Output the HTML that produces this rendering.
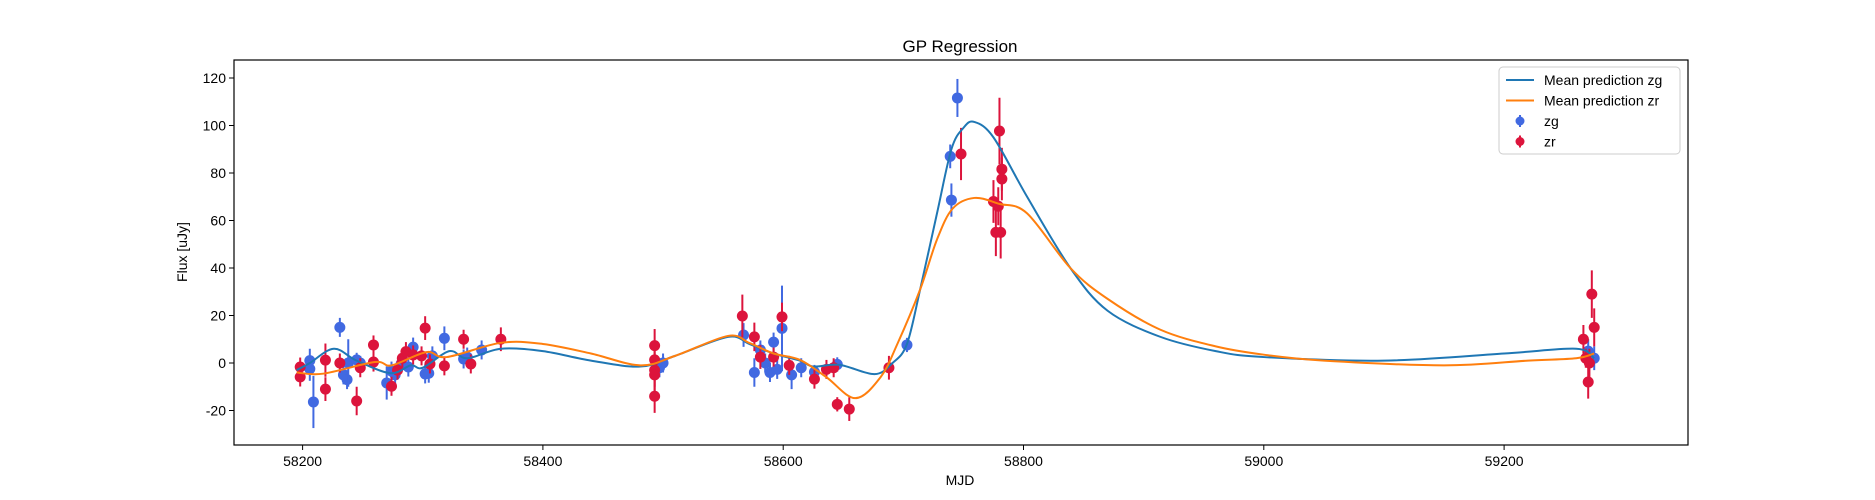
<!DOCTYPE html>
<html><head><meta charset="utf-8"><style>
body{margin:0;background:#fff}
svg{display:block;font-family:"Liberation Sans","DejaVu Sans",sans-serif}
</style></head><body>
<svg id="chart" width="1875" height="500">
<rect width="1875" height="500" fill="#fff"/>
<text x="960" y="52" font-size="17" text-anchor="middle">GP Regression</text>
<text x="960" y="485" font-size="14" text-anchor="middle">MJD</text>
<text x="0" y="0" font-size="14" text-anchor="middle" transform="translate(187,252) rotate(-90)">Flux [uJy]</text>
<g id="plot"></g>
</svg>
<script>
const xTicks=[58200,58400,58600,58800,59000,59200];
const yTicks=[-20,0,20,40,60,80,100,120];
const zgX=[58206,58206,58209,58231,58234,58237,58238,58245,58248,58270,58274,58277,58282,58288,58292,58302,58305,58308,58318,58334,58337,58349,58497,58500,58567,58576,58581,58585,58589,58592,58595,58599,58607,58615,58626,58645,58703,58739,58740,58745,59270,59275];
const zgY=[1,-2.5,-16.4,15,-5,-7,0,1.3,0,-8.4,-3.4,-5,-0.4,-1.7,6.7,-4.6,-4.3,3,10.4,1.7,2.5,5.5,-2,0,11.8,-4,5.5,0,-4,8.8,-2.7,14.6,-5,-2,-3.8,-0.6,7.6,87,68.6,111.6,5,2];
const zgE=[5,5,11,4,4,4,10,3,3,7,4,4,4,4,4,4,4,4,5,4,4,4,4,4,5,6,4,4,4,4,4,18,6,4,3,3,3,5,7,8,5,5];
const zrX=[58198,58198,58219,58219,58231,58245,58248,58259,58259,58274,58279,58283,58286,58292,58299,58302,58306,58318,58334,58340,58365,58493,58493,58493,58493,58493,58566,58576,58581,58592,58599,58605,58626,58636,58642,58645,58655,58688,58748,58775,58777,58779,58780,58781,58782,58782,59266,59268,59270,59271,59273,59275];
const zrY=[-1.7,-5.9,1.2,-11,0,-16,-2,7.6,0.4,-9.8,-3,2,4.8,3.4,3,14.7,-0.4,-1.2,10,-0.4,10,-14,1.3,7.3,-3,-5,19.8,11,2.5,2.5,19.4,-1,-6.8,-2.7,-2,-17.4,-19.4,-2,88,68,55,66,97.7,55,77.5,81.6,10,2,-8,0,29,15];
const zrE=[4,4,7,5,4,6,4,4,4,4,4,4,4,4,4,5,4,4,4,4,5,7,7,7,7,7,9,6,5,4,6,4,4,4,4,3,5,5,11,9,10,8,14,11,9,9,6,4,7,6,10,8];
const mgX=[58195,58206,58226,58245,58273,58290,58300,58322,58337,58365,58400,58440,58481,58510,58554,58572,58592,58614,58625,58647,58676,58691,58703,58714,58728,58740,58750,58759,58775,58803,58839,58870,58914,58960,59000,59100,59200,59260,59275];
const mgY=[-3,0,6,1,-4.3,-1,-2,5,2,6,5,1,-1.5,3,11,8,4,1,-1.5,-0.8,-4.7,0,8,31,63,90,99,101.5,95,70,40,22,11,5,2.5,1,4,6,2];
const mrX=[58195,58217,58260,58274,58303,58320,58365,58400,58440,58481,58510,58554,58572,58592,58614,58636,58660,58681,58695,58714,58728,58741,58759,58780,58803,58839,58870,58914,58960,59000,59050,59150,59220,59260,59275];
const mrY=[-4,-4.5,0.4,-1,4.6,2.5,8.5,8,4,-1,3,11.4,8.4,4,1.3,-6,-14.8,-6,8,31,52,65,69.5,67,63,40,27,14,7,3.5,1,-1,1,2,4];

const L=234,R=1688,T=60,B=445;
const X=v=>302.6+(v-58200)*1.2015;
const Y=v=>363-v*2.375;
const NS='http://www.w3.org/2000/svg';
const g=document.getElementById('plot');
function mk(t,a,p){const e=document.createElementNS(NS,t);for(const k in a)e.setAttribute(k,a[k]);(p||g).appendChild(e);return e;}

xTicks.forEach(v=>{
  const gt=mk('g',{});
  
  
  mk('line',{x1:X(v),x2:X(v),y1:B,y2:B+5,stroke:'#000'},gt);
  const t=mk('text',{x:X(v),y:B+21,'font-size':14,'text-anchor':'middle'},gt);t.textContent=v;
});
yTicks.forEach(v=>{
  const gt=mk('g',{});
  
  
  mk('line',{x1:L-5,x2:L,y1:Y(v),y2:Y(v),stroke:'#000'},gt);
  const t=mk('text',{x:L-8,y:Y(v)+5,'font-size':14,'text-anchor':'end'},gt);t.textContent=v;
});

function curve(xs,ys,col,name){
  const p=xs.map((x,i)=>[X(x),Y(ys[i])]);
  let d='M'+p[0][0]+','+p[0][1];
  for(let i=0;i<p.length-1;i++){
    const p0=p[i-1]||p[i],p1=p[i],p2=p[i+1],p3=p[i+2]||p2;
    d+=` C${p1[0]+(p2[0]-p0[0])/6},${p1[1]+(p2[1]-p0[1])/6} ${p2[0]-(p3[0]-p1[0])/6},${p2[1]-(p3[1]-p1[1])/6} ${p2[0]},${p2[1]}`;
  }
  const e=mk('path',{d,fill:'none',stroke:col,'stroke-width':2});
  
  
}
function pts(xs,ys,es,col,name){
  const gg=mk('g',{});
  
  
  xs.forEach((x,i)=>{
    mk('line',{x1:X(x),x2:X(x),y1:Y(ys[i]-es[i]),y2:Y(ys[i]+es[i]),stroke:col,'stroke-width':2},gg);
    const c=mk('circle',{cx:X(x),cy:Y(ys[i]),r:5.5,fill:col},gg);
    
    
  });
}
pts(zgX,zgY,zgE,'#4169e1','zg-points');
pts(zrX,zrY,zrE,'#dc143c','zr-points');
curve(mgX,mgY,'#1f77b4','mean-prediction-zg');
curve(mrX,mrY,'#ff7f0e','mean-prediction-zr');

const fr=mk('rect',{x:L,y:T,width:R-L,height:B-T,fill:'none',stroke:'#000','stroke-width':1.2});



const lg=mk('g',{});


mk('rect',{x:1499,y:67,width:181,height:87,rx:4,fill:'#fff',stroke:'#ccc'},lg);
const items=[['line','#1f77b4','Mean prediction zg'],['line','#ff7f0e','Mean prediction zr'],['pt','#4169e1','zg'],['pt','#dc143c','zr']];
items.forEach((it,i)=>{
  const y=80+i*20.5;
  const eg=mk('g',{},lg);
  
  
  if(it[0]=='line') mk('line',{x1:1506,x2:1534,y1:y,y2:y,stroke:it[1],'stroke-width':2},eg);
  else {mk('line',{x1:1520,x2:1520,y1:y-6,y2:y+6,stroke:it[1],'stroke-width':2},eg);mk('circle',{cx:1520,cy:y,r:4.5,fill:it[1]},eg);}
  const t=mk('text',{x:1544,y:y+5,'font-size':14},eg);t.textContent=it[2];
});
</script>
</body></html>
